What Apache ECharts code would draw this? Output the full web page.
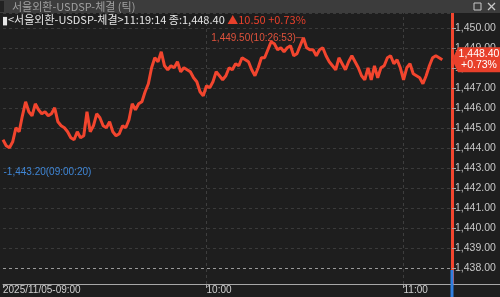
<!DOCTYPE html>
<html><head><meta charset="utf-8">
<script src="https://cdn.jsdelivr.net/npm/echarts@6/dist/echarts.min.js"></script>
<style>html,body{margin:0;padding:0;background:#1e1e1e}#c{width:500px;height:297px}</style>
</head><body><div id="c"></div>
<script>
// ---- data ----
const titleText = '서울외환-USDSP-체결 (틱)';
const instrument = '<서울외환-USDSP-체결>';
const lastTime = '11:19:14';
const lastPrice = 1448.40;
const change = 10.50;
const changePct = 0.73;
const highValue = 1449.50, highTime = '10:26:53';
const lowValue = 1443.20, lowTime = '09:00:20';
const hourTickIdx = [0, 63, 124];
const hourLabels = ['2025/11/05-09:00', '10:00', '11:00'];
const prices = [
1444.4,1444.1,1444.0,1444.3,1445.0,1444.8,1445.6,1446.3,1445.8,1445.6,
1446.2,1445.9,1445.7,1445.8,1445.6,1445.7,1446.0,1445.3,1445.1,1445.0,
1444.8,1444.5,1444.4,1444.8,1444.5,1444.6,1445.8,1444.8,1445.1,1445.7,
1445.5,1445.1,1445.0,1445.3,1444.8,1444.6,1444.7,1445.1,1445.0,1445.4,
1446.2,1445.9,1446.2,1446.3,1446.8,1447.2,1448.0,1448.5,1448.3,1448.8,
1448.1,1447.9,1448.1,1448.0,1448.3,1447.8,1448.0,1447.9,1447.8,1447.5,
1447.3,1446.8,1446.6,1447.1,1447.0,1447.3,1447.8,1447.6,1447.4,1447.6,
1448.0,1447.9,1448.2,1448.1,1448.5,1448.4,1448.3,1447.9,1447.6,1448.0,
1448.5,1448.5,1448.9,1449.3,1449.2,1448.9,1449.0,1448.8,1449.0,1449.1,
1448.6,1448.7,1449.1,1449.5,1449.0,1448.9,1448.9,1448.6,1448.9,1449.0,
1448.6,1448.3,1448.1,1447.9,1448.5,1448.2,1447.9,1448.3,1448.6,1448.3,
1448.0,1447.6,1447.4,1448.0,1447.4,1448.1,1447.5,1448.0,1448.1,1448.5,
1448.6,1448.2,1448.4,1448.0,1447.4,1448.0,1448.2,1447.7,1447.6,1447.5,
1447.2,1447.6,1448.1,1448.5,1448.6,1448.5,1448.4
];

function fmt(v){
  const s = v.toFixed(2); const p = s.split('.');
  return p[0].replace(/\B(?=(\d{3})+(?!\d))/g, ',') + '.' + p[1];
}
const RED = '#f2452e';
const NUM_FONT = 'Liberation Sans';
const KR_FONT = '"Noto Sans CJK KR"';
const xMax = 139;
const seriesData = prices.map((v, i) => [i, v]);
const hiIdx = prices.indexOf(Math.max(...prices));

const chart = echarts.init(document.getElementById('c'), null, {renderer: 'canvas'});
chart.setOption({
  animation: false,
  backgroundColor: '#1e1e1e',
  grid: {left: 1, right: 48, top: 13, bottom: 13, containLabel: false},
  xAxis: {
    type: 'value', min: 0, max: xMax,
    axisLine: {show: true, lineStyle: {color: '#a8a8a8', width: 1}},
    axisTick: {show: true, customValues: hourTickIdx, length: 4, lineStyle: {color: '#a8a8a8'}},
    axisLabel: {
      show: true, customValues: hourTickIdx, align: 'left', margin: 1,
      color: '#cfcfcf', fontSize: 10, fontFamily: NUM_FONT,
      formatter: v => hourLabels[hourTickIdx.indexOf(Math.round(v))] || ''
    },
    splitLine: {show: false}
  },
  yAxis: {
    type: 'value', position: 'right', min: 1437.19, max: 1450.74, splitNumber: 13,
    axisLine: {show: true, onZero: false, lineStyle: {color: RED, width: 3}},
    axisTick: {show: true, length: 4, lineStyle: {color: '#a8a8a8'}},
    axisLabel: {
      color: '#c8c8c8', fontSize: 10.5, fontFamily: NUM_FONT, margin: 3,
      showMinLabel: false, showMaxLabel: false,
      formatter: v => fmt(v)
    },
    splitLine: {show: true, lineStyle: {color: '#3a3a3a', type: [3, 3], width: 1}}
  },
  series: [{
    type: 'line', data: seriesData, showSymbol: false, z: 5,
    lineStyle: {color: RED, width: 3},
    itemStyle: {color: RED},
    markLine: {
      silent: true, symbol: 'none', label: {show: false},
      data: [
        ...hourTickIdx.slice(1).map(i => ({xAxis: i, lineStyle: {color: '#3e3e3e', type: [3, 3], width: 1}})),
        {yAxis: 1438, lineStyle: {color: '#9a9a9a', type: [3, 3], width: 1}}
      ]
    },
    markPoint: {
      silent: true,
      data: [
        {coord: [hiIdx, highValue], symbol: 'circle', symbolSize: 1, itemStyle: {color: 'rgba(0,0,0,0)'},
         label: {show: true, position: 'left', distance: 0, color: '#e0523c', fontSize: 10, fontFamily: NUM_FONT,
                 formatter: fmt(highValue) + '(' + highTime + ')─'}},
        {coord: [0, lowValue], symbol: 'circle', symbolSize: 1, itemStyle: {color: 'rgba(0,0,0,0)'},
         label: {show: true, position: 'right', distance: 0, offset: [0, 8], color: '#3f86d6', fontSize: 10, fontFamily: NUM_FONT,
                 formatter: '-' + fmt(lowValue) + '(' + lowTime + ')'}},
        {coord: [xMax, lastPrice], symbol: 'path://M0,12.5 L6,0 L48,0 L48,25 L6,25 Z', symbolSize: [48, 25],
         symbolKeepAspect: false, symbolOffset: [24, 0], itemStyle: {color: '#e8402b'},
         label: {show: true, position: 'inside', offset: [3, 0], color: '#ffffff', fontSize: 10.5, lineHeight: 11, fontFamily: NUM_FONT,
                 formatter: fmt(lastPrice) + '\n+' + changePct.toFixed(2) + '%'}}
      ]
    }
  }],
  graphic: [
    {type: 'rect', z: 100, shape: {x: 0, y: 0, width: 500, height: 13}, style: {fill: '#3c3c3c'}},
    {type: 'rect', z: 101, shape: {x: 0, y: 1, width: 4, height: 11}, style: {fill: '#222'}},
    {type: 'text', z: 101, x: 12, y: 7, style: {text: titleText, fill: '#a0a0a0', font: '11px ' + KR_FONT, verticalAlign: 'middle'}},
    {type: 'rect', z: 101, shape: {x: 474, y: 3, width: 7, height: 7}, style: {fill: 'none', stroke: '#c8c8c8', lineWidth: 1}},
    {type: 'line', z: 101, shape: {x1: 488, y1: 3, x2: 495, y2: 10}, style: {stroke: '#c8c8c8', lineWidth: 1.2}},
    {type: 'line', z: 101, shape: {x1: 495, y1: 3, x2: 488, y2: 10}, style: {stroke: '#c8c8c8', lineWidth: 1.2}},
    {type: 'text', z: 101, x: 2, y: 19.5, style: {
      text: '{w|▮' + instrument + lastTime + ' 종:' + fmt(lastPrice) + '} {r|▲' + change.toFixed(2) + ' +' + changePct.toFixed(2) + '%}',
      verticalAlign: 'middle', font: '11px ' + KR_FONT,
      rich: {w: {fill: '#e6e6e6', font: '11px ' + KR_FONT}, r: {fill: '#e8402b', font: '11px ' + KR_FONT}}
    }},
    {type: 'line', z: 50, shape: {x1: 452, y1: 284.5, x2: 500, y2: 284.5}, style: {stroke: '#a8a8a8', lineWidth: 1}},
    {type: 'rect', z: 60, shape: {x: 450.5, y: 270, width: 3, height: 27}, style: {fill: '#2f7fe0'}}
  ]
});
</script></body></html>
